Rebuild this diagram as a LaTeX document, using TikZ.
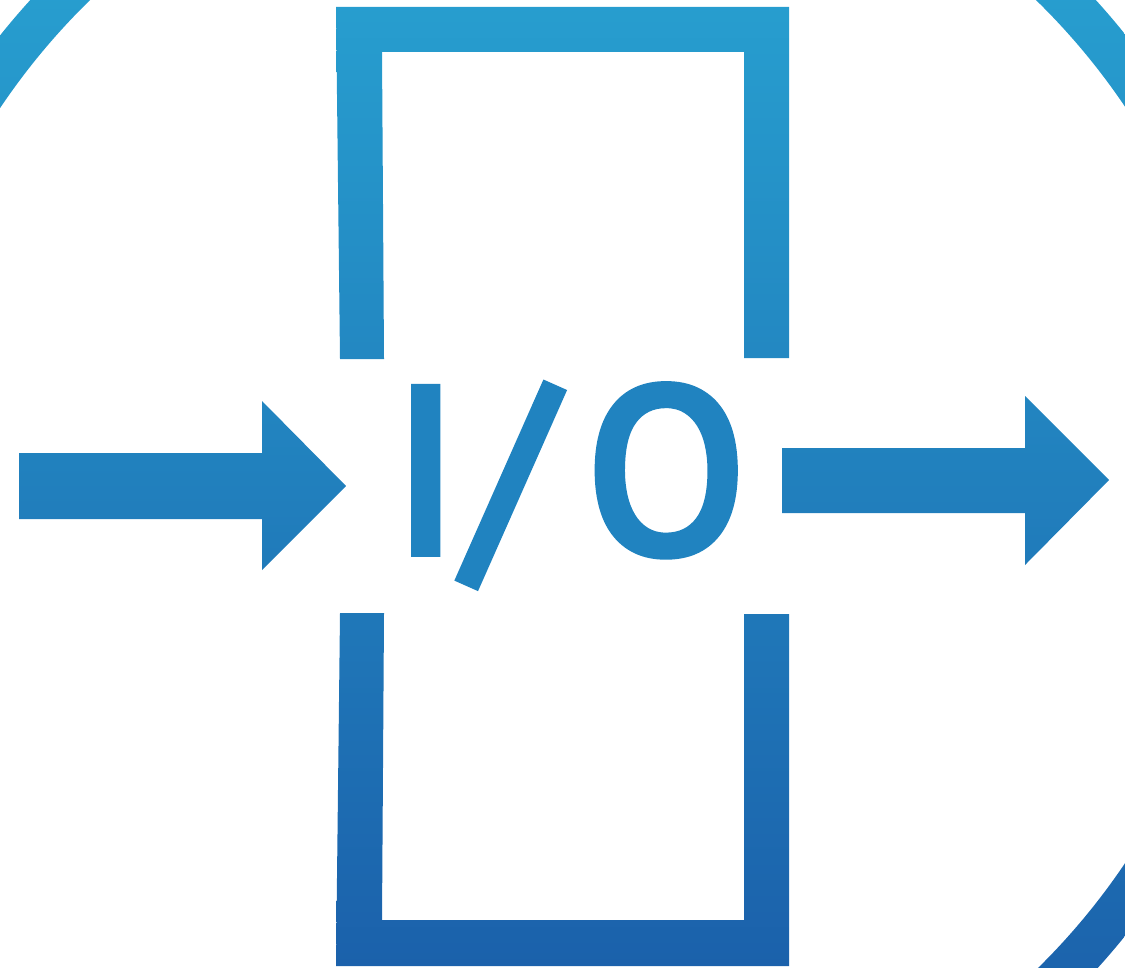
\documentclass[tikz,border=0pt]{standalone}
\usepackage{fontspec}
\newfontfamily\iofont{PT Sans}[FakeBold=4.2]
\usetikzlibrary{positioning}

\definecolor{iotop}{RGB}{39,158,207}
\definecolor{iobot}{RGB}{27,97,171}
\definecolor{ringtop}{RGB}{42,173,216}
\definecolor{ringbot}{RGB}{24,82,162}
\definecolor{iomid}{RGB}{32,131,192}

\begin{document}
\begin{tikzpicture}[x=0.01cm, y=-0.01cm,
    part/.style 2 args={top color=iobot!#1!iotop, bottom color=iobot!#2!iotop, draw=none},
    iolabel/.style={text=iomid, inner sep=0pt, anchor=base,
      font=\iofont\fontsize{66.3}{68}\selectfont}
    ]
    \useasboundingbox (0,0) rectangle (1125,967);
    \clip (0,0) rectangle (1125,967);

    % ring, open at the lower left
    \coordinate (c) at (563,485);
    \shade[top color=ringtop, bottom color=ringbot]
      (c) ++(-100:7.20cm) arc[start angle=-100, end angle=180, radius=7.20cm]
      -- ++(0:0.43cm) arc[start angle=180, end angle=-100, radius=6.77cm] -- cycle;

    % brackets
    \shade[part={1}{37}] (336,7) -- (789,7) -- (789,358) -- (744,358) -- (744,52)
      -- (382,52) -- (384,359) -- (340,359) -- cycle;
    \shade[part={63}{100}] (340,613) -- (384,613) -- (382,920) -- (744,920)
      -- (744,614) -- (789,614) -- (789,966) -- (336,966) -- cycle;

    % arrows
    \shade[part={41}{59}] (19,453) -- (262,453) -- (262,401) -- (346,486)
      -- (262,570) -- (262,519) -- (19,519) -- cycle;
    \shade[part={41}{58}] (782,448) -- (1025,448) -- (1025,396) -- (1109,480)
      -- (1025,565) -- (1025,513) -- (782,513) -- cycle;

    \node[iolabel] (io) at (569,552) {I\kern0.1cm/\kern0.345cm O};
\end{tikzpicture}
\end{document}
